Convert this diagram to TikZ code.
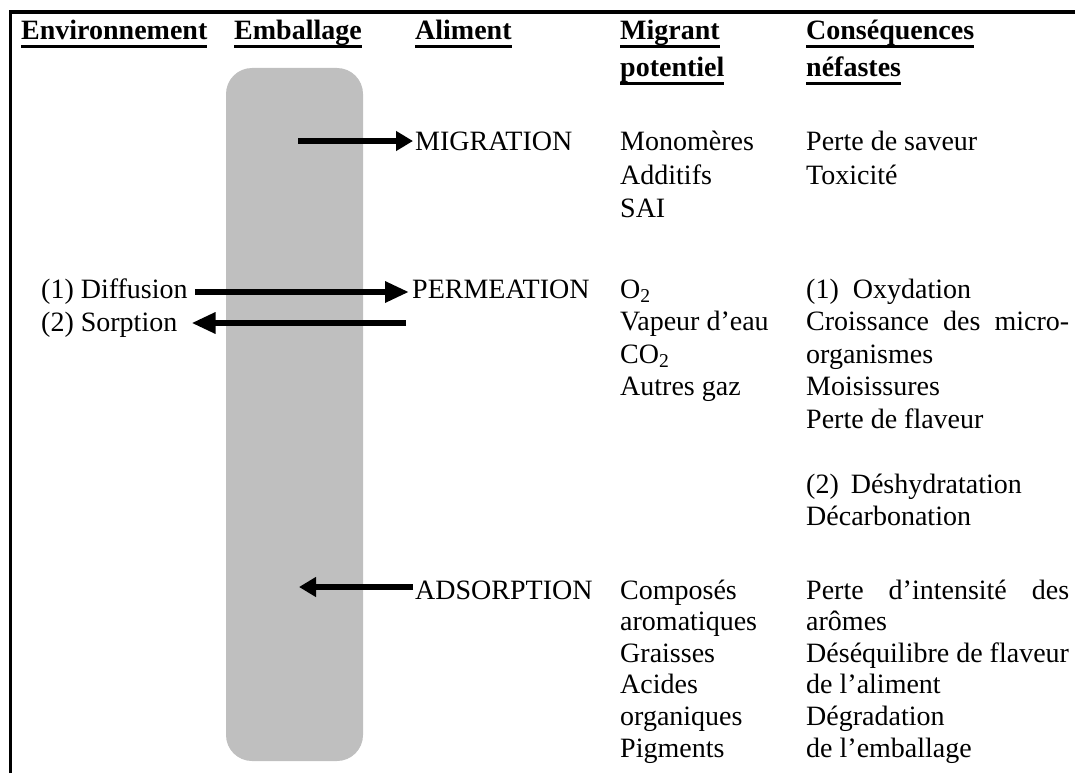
\documentclass[tikz,border=0pt]{standalone}
\usepackage{fontspec}
\setmainfont{Liberation Serif}
\usetikzlibrary{arrows.meta}
\definecolor{boxgray}{RGB}{191,191,191}
\newcommand{\hdrul}[1]{\setbox0\hbox{#1}\rlap{\rule[-8pt]{\wd0}{2.5pt}}\box0}
\begin{document}
\begin{tikzpicture}[x=1pt,y=-1pt,
  txt/.style={anchor=base west, inner sep=0pt, font=\fontsize{28}{33}\selectfont},
  hdr/.style={txt, font=\fontsize{28}{33}\selectfont\bfseries},
  arrS/.style={line width=6pt, -{Triangle[length=17pt,width=19pt]}},
  arrL/.style={line width=6pt, -{Triangle[length=24pt,width=20pt]}}]
\useasboundingbox (0,0) rectangle (1075,773);
% frame
\draw[line width=3.5pt] (10.5,773) -- (10.5,12) -- (1075,12);
% packaging band
\fill[boxgray, rounded corners=26pt] (226,68) rectangle (363,761);
% headers
\node[hdr] (h1) at (21,40) {\hdrul{Environnement}};
\node[hdr] (h2) at (234,40) {\hdrul{Emballage}};
\node[hdr] (h3) at (415,40) {\hdrul{Aliment}};
\node[hdr] (h4a) at (620,40) {\hdrul{Migrant}};
\node[hdr] (h4b) at (620,77) {\hdrul{potentiel}};
\node[hdr] (h5a) at (806,40) {\hdrul{Conséquences}};
\node[hdr] (h5b) at (806,77) {\hdrul{néfastes}};
% row 1
\node[txt] (mig) at (415,150) {MIGRATION};
\node[txt] (m1) at (620,150) {Monomères};
\node[txt] (m2) at (620,184) {Additifs};
\node[txt] (m3) at (620,217) {SAI};
\node[txt] (c1) at (806,150) {Perte de saveur};
\node[txt] (c2) at (806,184) {Toxicité};
% row 2
\node[txt] (diff) at (41,298) {(1) Diffusion};
\node[txt] (sorp) at (41,331) {(2) Sorption};
\node[txt] (perm) at (412,298) {PERMEATION};
\node[txt] (p1) at (620,298) {O\textsubscript{2}};
\node[txt] (p2) at (620,330.5) {Vapeur d’eau};
\node[txt] (p3) at (620,363) {CO\textsubscript{2}};
\node[txt] (p4) at (620,395.5) {Autres gaz};
\node[txt] (q1) at (806,298) {(1)\hspace{14pt}Oxydation};
\node[txt] (q2) at (806,330.5) {\makebox[263pt][s]{Croissance des micro-}};
\node[txt] (q3) at (806,363) {organismes};
\node[txt] (q4) at (806,395.5) {Moisissures};
\node[txt] (q5) at (806,428) {Perte de flaveur};
\node[txt] (q6) at (806,493) {(2)\hspace{12pt}Déshydratation};
\node[txt] (q7) at (806,525.5) {Décarbonation};
% row 3
\node[txt] (ads) at (415,599) {ADSORPTION};
\node[txt] (a1) at (620,599) {Composés};
\node[txt] (a2) at (620,630.6) {aromatiques};
\node[txt] (a3) at (620,662.2) {Graisses};
\node[txt] (a4) at (620,693.8) {Acides};
\node[txt] (a5) at (620,725.4) {organiques};
\node[txt] (a6) at (620,757) {Pigments};
\node[txt] (d1) at (806,599) {\makebox[263pt][s]{Perte d’intensité des}};
\node[txt] (d2) at (806,630.6) {arômes};
\node[txt] (d3) at (806,662.2) {Déséquilibre de flaveur};
\node[txt] (d4) at (806,693.8) {de l’aliment};
\node[txt] (d5) at (806,725.4) {Dégradation};
\node[txt] (d6) at (806,757) {de l’emballage};
% arrows
\coordinate (migtail) at (298,141);
\draw[arrS] (migtail) -- ([xshift=-2pt]migtail -| mig.west);
\coordinate (diffy) at (0,292);
\draw[arrL] ([xshift=7pt]diffy -| diff.east) -- ([xshift=-3pt]diffy -| perm.west);
\coordinate (sorptail) at (406,323);
\draw[arrL] (sorptail) -- ([xshift=14pt]sorptail -| sorp.east);
\coordinate (adstip) at (299,587);
\draw[arrS] ([xshift=-2pt]adstip -| ads.west) -- (adstip);
\end{tikzpicture}
\end{document}
